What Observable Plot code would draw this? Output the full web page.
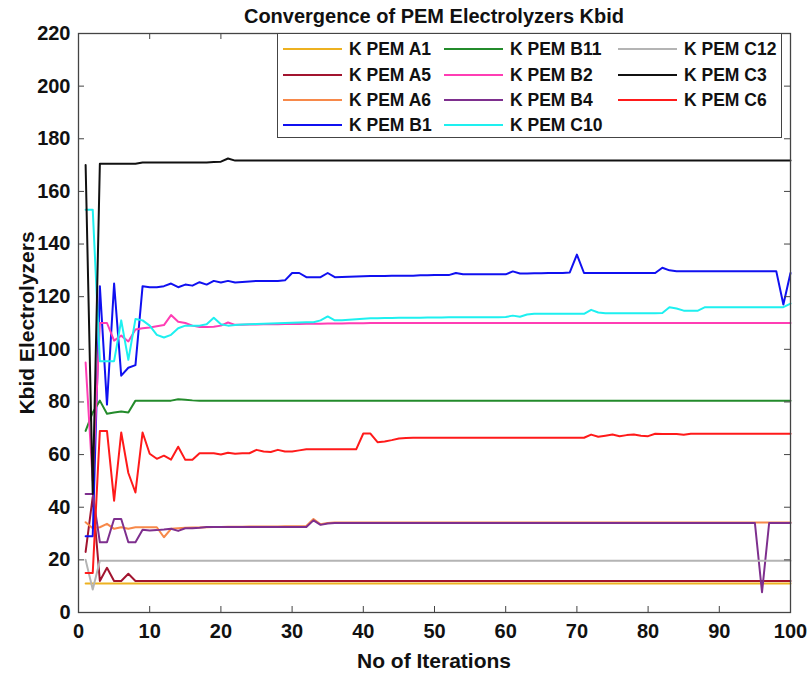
<!DOCTYPE html>
<html><head><meta charset="utf-8">
<script src="https://cdn.jsdelivr.net/npm/d3@7"></script>
<script src="https://cdn.jsdelivr.net/npm/@observablehq/plot@0.6"></script>
<style>
body{margin:0;background:#fff;}
#wrap{position:relative;width:810px;height:676px;font-family:"Liberation Sans",Arial,sans-serif;font-weight:bold;color:#111;}
.ttl{position:absolute;white-space:nowrap;}
#legend{position:absolute;left:277px;top:33px;width:505px;height:105px;border:1px solid #444;background:#fff;box-sizing:border-box;}
.li{position:absolute;height:20px;}
.li span.ln{position:absolute;left:0;top:9px;width:59px;height:2px;}
.li span.tx{position:absolute;top:0;white-space:nowrap;font-size:17.5px;line-height:20px;}
</style></head><body><div id="wrap"></div>
<script>
// ---- data ----
const iterations = d3.range(1, 101);
const xTicks = [0,10,20,30,40,50,60,70,80,90,100];
const yTicks = [0,20,40,60,80,100,120,140,160,180,200,220];
const seriesNames = ["K PEM A1","K PEM A5","K PEM A6","K PEM B1","K PEM B11","K PEM B2","K PEM B4","K PEM C10","K PEM C12","K PEM C3","K PEM C6"];
const seriesColors = ["#EDB120","#A2142F","#F7894A","#1010F0","#238B2B","#FF3DB4","#7E2F8E","#1EF0F0","#B4B4B4","#111111","#FF1A1A"];

const A1 = [
11,11,11,11,11,11,11,11,11,11,
11,11,11,11,11,11,11,11,11,11,
11,11,11,11,11,11,11,11,11,11,
11,11,11,11,11,11,11,11,11,11,
11,11,11,11,11,11,11,11,11,11,
11,11,11,11,11,11,11,11,11,11,
11,11,11,11,11,11,11,11,11,11,
11,11,11,11,11,11,11,11,11,11,
11,11,11,11,11,11,11,11,11,11,
11,11,11,11,11,11,11,11,11,11];
const A5 = [
23,44,12,17,12,12,14.7,12,12,12,
12,12,12,12,12,12,12,12,12,12,
12,12,12,12,12,12,12,12,12,12,
12,12,12,12,12,12,12,12,12,12,
12,12,12,12,12,12,12,12,12,12,
12,12,12,12,12,12,12,12,12,12,
12,12,12,12,12,12,12,12,12,12,
12,12,12,12,12,12,12,12,12,12,
12,12,12,12,12,12,12,12,12,12,
12,12,12,12,12,12,12,12,12,12];
const A6 = [
34.3,32,32.4,33.7,31.8,32.4,31.8,32.4,32.4,32.4,
32.4,28.6,31.8,32,32.2,32.3,32.3,32.4,32.5,32.5,
32.6,32.6,32.6,32.7,32.7,32.7,32.7,32.7,32.8,32.8,
32.8,32.9,35.5,33.5,34,34.2,34.2,34.2,34.2,34.2,
34.2,34.2,34.2,34.2,34.2,34.2,34.2,34.2,34.2,34.2,
34.2,34.2,34.2,34.2,34.2,34.2,34.2,34.2,34.2,34.2,
34.2,34.2,34.2,34.2,34.2,34.2,34.2,34.2,34.2,34.2,
34.2,34.2,34.2,34.2,34.2,34.2,34.2,34.2,34.2,34.2,
34.2,34.2,34.2,34.2,34.2,34.2,34.2,34.2,34.2,34.2,
34.2,34.2,34.2,34.2,34.2,34.2,34.2,34.2,34.2,34.2];
const B1 = [
29,29,124,79,125,90,93,94,124,123.6,
123.6,124,125,123.6,124.6,124.2,125.5,124.6,126,125.4,
126,125.4,125.6,125.8,126,126,126,126,126.2,129,
129,127.4,127.4,127.4,129,127.4,127.5,127.6,127.7,127.8,
127.9,127.9,127.9,128,128,128,128,128.1,128.1,128.2,
128.2,128.2,129,128.5,128.5,128.5,128.5,128.5,128.5,128.5,
129.6,128.8,128.8,128.9,128.9,129,129,129,129.2,136,
129,129,129,129,129,129,129,129,129,129,
129,131,130,129.7,129.7,129.7,129.7,129.7,129.7,129.7,
129.7,129.7,129.7,129.7,129.7,129.7,129.7,129.7,117,129];
const B11 = [
69,76,80.5,75.5,76,76.4,76,80.5,80.5,80.5,
80.5,80.5,80.5,81,80.8,80.6,80.5,80.5,80.5,80.5,
80.5,80.5,80.5,80.5,80.5,80.5,80.5,80.5,80.5,80.5,
80.5,80.5,80.5,80.5,80.5,80.5,80.5,80.5,80.5,80.5,
80.5,80.5,80.5,80.5,80.5,80.5,80.5,80.5,80.5,80.5,
80.5,80.5,80.5,80.5,80.5,80.5,80.5,80.5,80.5,80.5,
80.5,80.5,80.5,80.5,80.5,80.5,80.5,80.5,80.5,80.5,
80.5,80.5,80.5,80.5,80.5,80.5,80.5,80.5,80.5,80.5,
80.5,80.5,80.5,80.5,80.5,80.5,80.5,80.5,80.5,80.5,
80.5,80.5,80.5,80.5,80.5,80.5,80.5,80.5,80.5,80.5];
const B2 = [
95,50,110,110,103.3,105.2,103,107.5,108,108.3,
108.8,109.2,113,110.5,110,109,108.5,108.5,108.6,109,
110.2,109.3,109.3,109.4,109.4,109.5,109.5,109.5,109.6,109.6,
109.6,109.7,109.7,109.7,109.8,109.8,109.8,109.9,109.9,109.9,
110,110,110,110,110,110,110,110,110,110,
110,110,110,110,110,110,110,110,110,110,
110,110,110,110,110,110,110,110,110,110,
110,110,110,110,110,110,110,110,110,110,
110,110,110,110,110,110,110,110,110,110,
110,110,110,110,110,110,110,110,110,110];
const B4 = [
45,45,26.7,26.7,35.5,35.5,26.7,26.7,31.4,31.2,
31.3,31.5,31.8,31,32,32,32.2,32.5,32.5,32.5,
32.5,32.5,32.5,32.5,32.5,32.5,32.5,32.5,32.5,32.5,
32.5,32.5,35,33.3,33.8,34,34,34,34,34,
34,34,34,34,34,34,34,34,34,34,
34,34,34,34,34,34,34,34,34,34,
34,34,34,34,34,34,34,34,34,34,
34,34,34,34,34,34,34,34,34,34,
34,34,34,34,34,34,34,34,34,34,
34,34,34,34,34,7.7,34,34,34,34];
const C10 = [
153,153,95.5,95.5,95.5,111,96,111.5,111,109,
105.5,104.5,105.5,108,109,109,109,109.5,112,109.5,
109,109.2,109.4,109.5,109.6,109.7,109.8,109.9,110,110.1,
110.2,110.3,110.3,111,112.5,111,111,111.2,111.4,111.6,
111.8,111.8,111.9,111.9,112,112,112,112,112.1,112.1,
112.1,112.2,112.2,112.2,112.2,112.2,112.2,112.2,112.2,112.3,
112.8,112.4,113.2,113.5,113.5,113.5,113.5,113.5,113.5,113.5,
113.5,115,114,113.7,113.7,113.7,113.7,113.7,113.7,113.7,
113.7,113.8,116,115.5,114.7,114.7,114.7,116,116,116,
116,116,116,116,116,116,116,116,116,117.4];
const C12 = [
20,8.7,19.7,19.7,19.7,19.7,19.7,19.7,19.7,19.7,
19.7,19.7,19.7,19.7,19.7,19.7,19.7,19.7,19.7,19.7,
19.7,19.7,19.7,19.7,19.7,19.7,19.7,19.7,19.7,19.7,
19.7,19.7,19.7,19.7,19.7,19.7,19.7,19.7,19.7,19.7,
19.7,19.7,19.7,19.7,19.7,19.7,19.7,19.7,19.7,19.7,
19.7,19.7,19.7,19.7,19.7,19.7,19.7,19.7,19.7,19.7,
19.7,19.7,19.7,19.7,19.7,19.7,19.7,19.7,19.7,19.7,
19.7,19.7,19.7,19.7,19.7,19.7,19.7,19.7,19.7,19.7,
19.7,19.7,19.7,19.7,19.7,19.7,19.7,19.7,19.7,19.7,
19.7,19.7,19.7,19.7,19.7,19.7,19.7,19.7,19.7,19.7];
const C3 = [
170,45,170.5,170.5,170.5,170.5,170.5,170.5,171,171,
171,171,171,171,171,171,171,171,171.2,171.3,
172.5,171.7,171.7,171.7,171.7,171.7,171.7,171.7,171.7,171.7,
171.7,171.7,171.7,171.7,171.7,171.7,171.7,171.7,171.7,171.7,
171.7,171.7,171.7,171.7,171.7,171.7,171.7,171.7,171.7,171.7,
171.7,171.7,171.7,171.7,171.7,171.7,171.7,171.7,171.7,171.7,
171.7,171.7,171.7,171.7,171.7,171.7,171.7,171.7,171.7,171.7,
171.7,171.7,171.7,171.7,171.7,171.7,171.7,171.7,171.7,171.7,
171.7,171.7,171.7,171.7,171.7,171.7,171.7,171.7,171.7,171.7,
171.7,171.7,171.7,171.7,171.7,171.7,171.7,171.7,171.7,171.7];
const C6 = [
15,15,69,69,42.5,68.4,53,45.6,68.4,60.3,
58.4,59.6,58.1,63,58,58,60.5,60.5,60.5,60,
60.7,60.3,60.5,60.5,61.8,61.2,61,61.8,61.2,61.2,
61.6,62,62,62,62,62,62,62,62,68,
68,64.7,65,65.5,66.1,66.3,66.4,66.4,66.4,66.4,
66.4,66.4,66.4,66.4,66.4,66.4,66.4,66.4,66.4,66.4,
66.4,66.4,66.4,66.4,66.4,66.4,66.4,66.4,66.4,66.4,
66.4,67.6,66.8,67.2,67.6,67,67.4,67.6,67.2,67,
67.9,67.8,67.8,67.8,67.5,67.9,67.9,67.9,67.9,67.9,
67.9,67.9,67.9,67.9,67.9,67.9,67.9,67.9,67.9,67.9];

const seriesValues = [A1, A5, A6, B1, B11, B2, B4, C10, C12, C3, C6];

// ---- build ----
const rows = seriesNames.flatMap((name, s) =>
  seriesValues[s].map((v, i) => ({name, iteration: iterations[i], value: v})));

const W = 810, H = 676, mL = 78, mR = 20, mT = 33, mB = 64;
const innerW = W - mL - mR, innerH = H - mT - mB, tk = 6;
const axisColor = "#444";

const chart = Plot.plot({
  width: W, height: H,
  marginLeft: mL, marginRight: mR, marginTop: mT, marginBottom: mB,
  x: {domain: [0, 100]},
  y: {domain: [0, 220]},
  color: {domain: seriesNames, range: seriesColors},
  style: {fontFamily: "'Liberation Sans', Arial, sans-serif", fontWeight: "bold", fontSize: "20px", color: "#111", background: "#fff"},
  marks: [
    Plot.lineY(rows, {x: "iteration", y: "value", z: "name", stroke: "name", strokeWidth: 2, strokeLinejoin: "round"}),
    Plot.tickX(xTicks, {x: d => d, insetTop: innerH - tk, stroke: axisColor}),
    Plot.tickX(xTicks, {x: d => d, insetBottom: innerH - tk, stroke: axisColor}),
    Plot.tickY(yTicks, {y: d => d, insetRight: innerW - tk, stroke: axisColor}),
    Plot.tickY(yTicks, {y: d => d, insetLeft: innerW - tk, stroke: axisColor}),
    Plot.frame({stroke: axisColor, strokeWidth: 1.3}),
    Plot.axisX(xTicks, {tickSize: 0, tickPadding: 11, label: null}),
    Plot.axisY(yTicks, {tickSize: 0, tickPadding: 8, label: null})
  ]
});

const wrap = document.getElementById("wrap");
wrap.appendChild(chart);
chart.style.position = "absolute"; chart.style.left = "0"; chart.style.top = "0";

function addText(txt, css) {
  const d = document.createElement("div");
  d.className = "ttl"; d.textContent = txt;
  Object.assign(d.style, css);
  wrap.appendChild(d);
  return d;
}
addText("Convergence of PEM Electrolyzers Kbid", {left: (mL + innerW / 2) + "px", top: "5px", transform: "translateX(-50%)", fontSize: "20px"});
addText("No of Iterations", {left: (mL + innerW / 2) + "px", top: "649px", transform: "translateX(-50%)", fontSize: "21px"});
addText("Kbid Electrolyzers", {left: "27px", top: (mT + innerH / 2) + "px", transform: "translate(-50%,-50%) rotate(-90deg)", fontSize: "21px"});

// legend (column-major, 4 rows x 3 columns)
const legend = document.createElement("div");
legend.id = "legend";
wrap.appendChild(legend);
const colX = [5, 166, 340], rowY = [5, 31, 56, 81];
seriesNames.forEach((name, i) => {
  const c = Math.floor(i / 4), r = i % 4;
  const it = document.createElement("div");
  it.className = "li";
  it.style.left = colX[c] + "px"; it.style.top = rowY[r] + "px";
  const ln = document.createElement("span"); ln.className = "ln"; ln.style.background = seriesColors[i];
  const tx = document.createElement("span"); tx.className = "tx"; tx.style.left = "66px"; tx.textContent = name;
  it.appendChild(ln); it.appendChild(tx);
  legend.appendChild(it);
});
</script></body></html>
